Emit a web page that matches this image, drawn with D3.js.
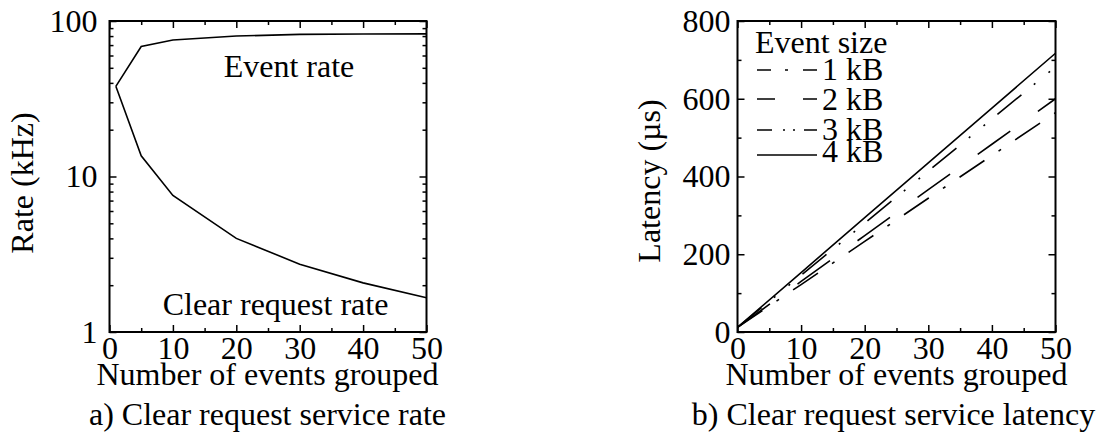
<!DOCTYPE html>
<html>
<head>
  <meta charset="utf-8">
  <title>Clear request service</title>
  <script src="https://cdn.jsdelivr.net/npm/d3@7"></script>
  <style>
    body { margin: 0; background: #fff; }
    svg { display: block; background: #fff; }
    text { font-family: "Liberation Serif", "Times New Roman", serif; font-size: 32px; fill: #000; }
    .axis text { font-family: "Liberation Serif", "Times New Roman", serif; font-size: 32px; fill: #000; }
    .axis line { stroke: #000; stroke-width: 1.5; }
    .axis .domain { display: none; }
    .frame { fill: none; stroke: #000; stroke-width: 2; }
    .line { fill: none; stroke: #000; stroke-width: 1.6; }
  </style>
</head>
<body>
<script>

  // a) rate vs number of events grouped
  var rateN = [1, 5, 10, 20, 30, 40, 50];
  var eventRate = [38, 68.5, 75.5, 80, 82, 82.5, 82.7];
  var clearRate = [38, 13.6, 7.55, 4.0, 2.73, 2.07, 1.66];

  // b) latency vs number of events grouped
  var latN = [0, 10, 20, 30, 40, 50];
  var lat1kB = [12, 122, 233, 344, 454, 564];
  var lat2kB = [12, 130, 248, 366, 483, 600];
  var lat3kB = [12, 146, 280, 414, 548, 682];
  var lat4kB = [12, 153, 294, 435, 576, 717];
  var sizeNames = ["1 kB", "2 kB", "3 kB", "4 kB"];

  var xTicks = [0, 10, 20, 30, 40, 50];
  var xMinor = [5, 15, 25, 35, 45];
  var rateTicks = [1, 10, 100];
  var rateMinor = [2, 3, 4, 5, 6, 7, 8, 9, 20, 30, 40, 50, 60, 70, 80, 90];
  var latTicks = [0, 200, 400, 600, 800];
  var latMinor = [100, 300, 500, 700];

  var svg = d3.select("body").append("svg")
      .attr("width", 1102)
      .attr("height", 448);

  function label(str, x, y, anchor, rot) {
    return svg.append("text")
        .attr("text-anchor", anchor || "start")
        .attr("transform", "translate(" + x + "," + y + ")" + (rot ? " rotate(" + rot + ")" : ""))
        .text(str);
  }

  function frame(x, y, yMajor, yMinor, yFmt, yPad) {
    var x0 = x.range()[0], x1 = x.range()[1],
        y0 = y.range()[0], y1 = y.range()[1];

    svg.append("g").attr("class", "axis").attr("transform", "translate(0," + y0 + ")")
        .call(d3.axisBottom(x).tickValues(xTicks).tickSizeInner(-7).tickSizeOuter(0).tickPadding(4).tickFormat(d3.format("d")));
    svg.append("g").attr("class", "axis").attr("transform", "translate(0," + y0 + ")")
        .call(d3.axisBottom(x).tickValues(xMinor).tickSize(-4).tickFormat(""));

    svg.append("g").attr("class", "axis").attr("transform", "translate(0," + y1 + ")")
        .call(d3.axisTop(x).tickValues(xTicks).tickSize(-7).tickFormat(""));
    svg.append("g").attr("class", "axis").attr("transform", "translate(0," + y1 + ")")
        .call(d3.axisTop(x).tickValues(xMinor).tickSize(-4).tickFormat(""));

    svg.append("g").attr("class", "axis").attr("transform", "translate(" + x0 + ",0)")
        .call(d3.axisLeft(y).tickValues(yMajor).tickSizeInner(-7).tickSizeOuter(0).tickPadding(yPad).tickFormat(yFmt));
    svg.append("g").attr("class", "axis").attr("transform", "translate(" + x0 + ",0)")
        .call(d3.axisLeft(y).tickValues(yMinor).tickSize(-4).tickFormat(""));

    svg.append("g").attr("class", "axis").attr("transform", "translate(" + x1 + ",0)")
        .call(d3.axisRight(y).tickValues(yMajor).tickSize(-7).tickFormat(""));
    svg.append("g").attr("class", "axis").attr("transform", "translate(" + x1 + ",0)")
        .call(d3.axisRight(y).tickValues(yMinor).tickSize(-4).tickFormat(""));

    svg.append("rect")
        .attr("class", "frame")
        .attr("x", x0).attr("y", y1)
        .attr("width", x1 - x0).attr("height", y0 - y1);
  }

  /* ---------- a) Clear request service rate ---------- */
  var xa = d3.scaleLinear().domain([0, 50]).range([109.5, 426.5]);
  var ya = d3.scaleLog().domain([1, 100]).range([332, 21]);

  frame(xa, ya, rateTicks, rateMinor, d3.format("d"), 12);

  var lineA = d3.line()
      .x(function (d) { return xa(d[0]); })
      .y(function (d) { return ya(d[1]); });

  svg.append("path").attr("class", "line").attr("d", lineA(d3.zip(rateN, eventRate)));
  svg.append("path").attr("class", "line").attr("d", lineA(d3.zip(rateN, clearRate)));

  label("Event rate", 289, 77, "middle");
  label("Clear request rate", 275.5, 315, "middle");
  label("Rate (kHz)", 33, 183, "middle", -90);
  label("Number of events grouped", 267.5, 385, "middle");
  label("a) Clear request service rate", 267.5, 425, "middle");

  /* ---------- b) Clear request service latency ---------- */
  var xb = d3.scaleLinear().domain([0, 50]).range([737.5, 1055.5]);
  var yb = d3.scaleLinear().domain([0, 800]).range([332, 21]);

  frame(xb, yb, latTicks, latMinor, d3.format("d"), 7);

  var lineB = d3.line()
      .x(function (d) { return xb(d[0]); })
      .y(function (d) { return yb(d[1]); });

  var latSeries = [lat1kB, lat2kB, lat3kB, lat4kB];
  var plotDash = ["30,17,3,17", "40,34", "31,16,2,17,2,16", null];
  var keyDash = ["14,14,3,15,20", "18,28,20", "15,11,2,8,2,9,20", null];

  latSeries.forEach(function (s, i) {
    svg.append("path")
        .attr("class", "line")
        .attr("stroke-dasharray", plotDash[i])
        .attr("d", lineB(d3.zip(latN, s)));
  });

  // legend
  var keyY = [70, 99, 130, 155];
  var keyText = [80, 110, 140, 162];
  label("Event size", 755, 53, "start");
  sizeNames.forEach(function (name, i) {
    svg.append("line")
        .attr("class", "line")
        .attr("stroke-dasharray", keyDash[i])
        .attr("x1", 757).attr("x2", 817)
        .attr("y1", keyY[i]).attr("y2", keyY[i]);
    label(name, 822, keyText[i], "start");
  });

  label("Latency (µs)", 660, 181, "middle", -90);
  label("Number of events grouped", 896.5, 385, "middle");
  label("b) Clear request service latency", 893.5, 425, "middle");

</script>
</body>
</html>
